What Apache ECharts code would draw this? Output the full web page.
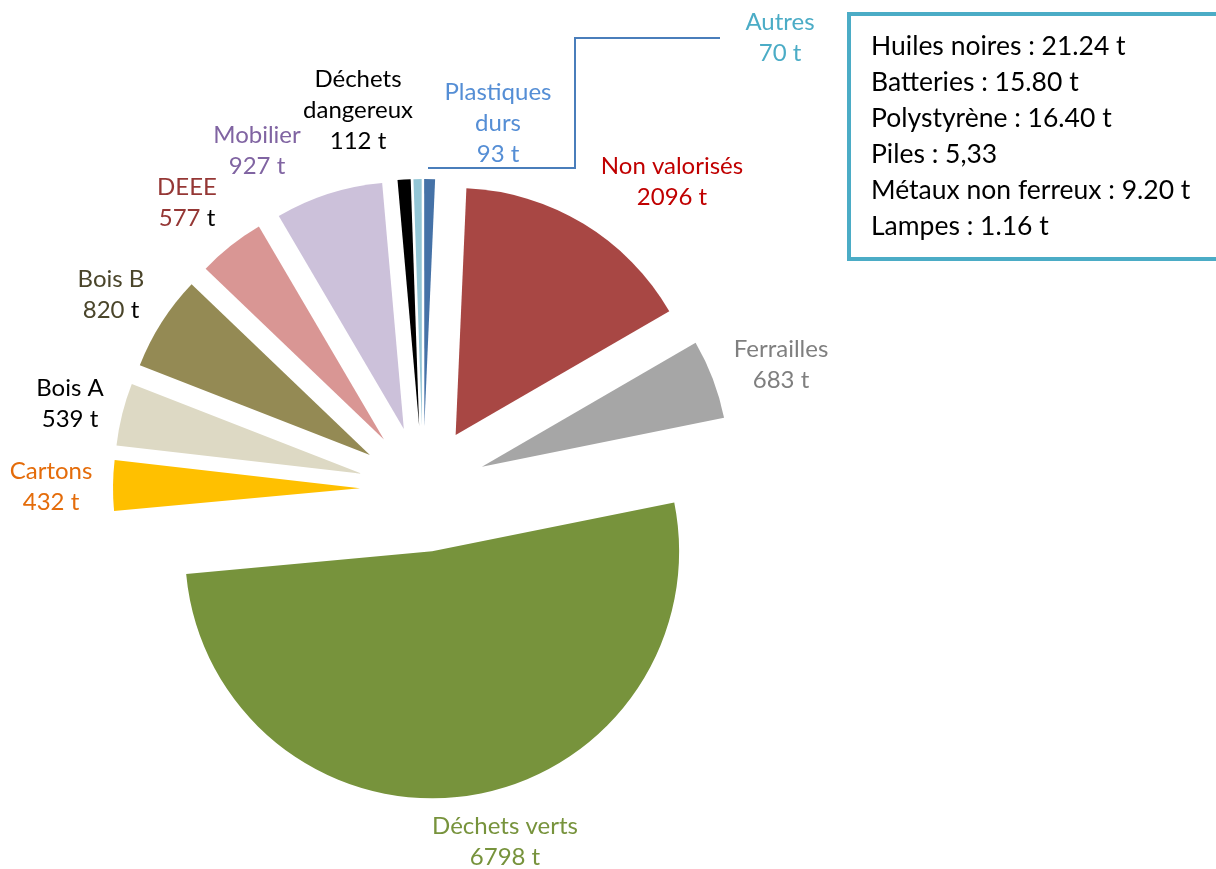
<!DOCTYPE html>
<html lang="fr">
<head>
    <meta charset="utf-8">
    <title>Tonnages collectés</title>
    <script src="https://cdn.jsdelivr.net/npm/echarts@6.0.0/dist/echarts.min.js"></script>
    <style>
        html, body { margin: 0; padding: 0; background: #fff; }
        #chart { width: 1216px; height: 869px; }
    </style>
</head>
<body>
    <div id="chart"></div>
    <script>
        // Data, clockwise from the top
        const categories = ['Non valorisés', 'Ferrailles', 'Déchets verts', 'Cartons', 'Bois A', 'Bois B',
            'DEEE', 'Mobilier', 'Déchets dangereux', 'Autres', 'Plastiques durs'];
        const labelNames = ['Non valorisés', 'Ferrailles', 'Déchets verts', 'Cartons', 'Bois A', 'Bois B',
            'DEEE', 'Mobilier', 'Déchets\ndangereux', 'Autres', 'Plastiques\ndurs'];
        const tonnes = [2096, 683, 6798, 432, 539, 820, 577, 927, 112, 70, 93];
        const otherLines = ['Huiles noires : 21.24 t', 'Batteries : 15.80 t', 'Polystyrène : 16.40 t',
            'Piles : 5,33', 'Métaux non ferreux : 9.20 t', 'Lampes : 1.16 t'];

        const sliceColors = ['#a84744', '#a6a6a6', '#77933c', '#ffc000', '#ddd9c4', '#948a54',
            '#d99694', '#ccc1da', '#000000', '#93c6d6', '#4572a7'];
        const labelColors = ['#c00000', '#7f7f7f', '#77933c', '#e46c0a', '#000000', '#4a452a',
            '#953735', '#8064a2', '#000000', '#4bacc6', '#558ed5'];
        const unitColors = ['#c00000', '#7f7f7f', '#77933c', '#e46c0a', '#000000', '#000000',
            '#000000', '#8064a2', '#000000', '#4bacc6', '#558ed5'];

        // centre of each label block
        const labelAnchors = [[672, 182], [781, 365], [505, 842], [51, 487], [70, 404], [111, 295],
            [187, 203], [257, 151], [358, 110], [780, 38], [498, 123]];

        const FONT = 'Lato, "Open Sans", sans-serif';
        const LABEL_SIZE = 24;

        const chart = echarts.init(document.getElementById('chart'));

        // slice labels, as Excel placed them
        const labelGraphics = categories.map(function (c, i) {
            const nameLines = labelNames[i].split('\n').map(s => '{n|' + s + '}').join('\n');
            return {
                type: 'text',
                x: labelAnchors[i][0],
                y: labelAnchors[i][1],
                style: {
                    text: nameLines + '\n{n|' + tonnes[i] + ' }{u|t}',
                    align: 'center',
                    verticalAlign: 'middle',
                    fontFamily: FONT,
                    fontSize: LABEL_SIZE,
                    lineHeight: 31,
                    rich: {
                        n: { fill: labelColors[i], fontFamily: FONT, fontSize: LABEL_SIZE, lineHeight: 31 },
                        u: { fill: unitColors[i], fontFamily: FONT, fontSize: LABEL_SIZE, lineHeight: 31 }
                    }
                }
            };
        });

        chart.setOption({
            animation: false,
            series: [{
                type: 'pie',
                center: [423, 489],
                radius: 247,
                startAngle: 87.5,
                clockwise: true,
                selectedMode: 'multiple',
                selectedOffset: 63,
                emphasis: { disabled: true },
                label: { show: false },
                labelLine: { show: false },
                data: categories.map(function (c, i) {
                    return {
                        name: c,
                        value: tonnes[i],
                        selected: true,
                        itemStyle: { color: sliceColors[i] }
                    };
                })
            }],
            graphic: labelGraphics.concat([
                {
                    type: 'polyline',
                    shape: { points: [[428, 168], [575, 168], [575, 38], [720, 38]] },
                    style: { stroke: '#4a7ebb', lineWidth: 2, fill: null }
                },
                {
                    type: 'rect',
                    shape: { x: 849, y: 14, width: 420, height: 245 },
                    style: { stroke: '#4bacc6', lineWidth: 4, fill: '#fff' }
                },
                {
                    type: 'text',
                    x: 871,
                    y: 28,
                    style: {
                        text: otherLines.join('\n'),
                        fontFamily: FONT,
                        fontSize: 26.5,
                        lineHeight: 36,
                        fill: '#000',
                        verticalAlign: 'top'
                    }
                }
            ])
        });
    </script>
</body>
</html>
